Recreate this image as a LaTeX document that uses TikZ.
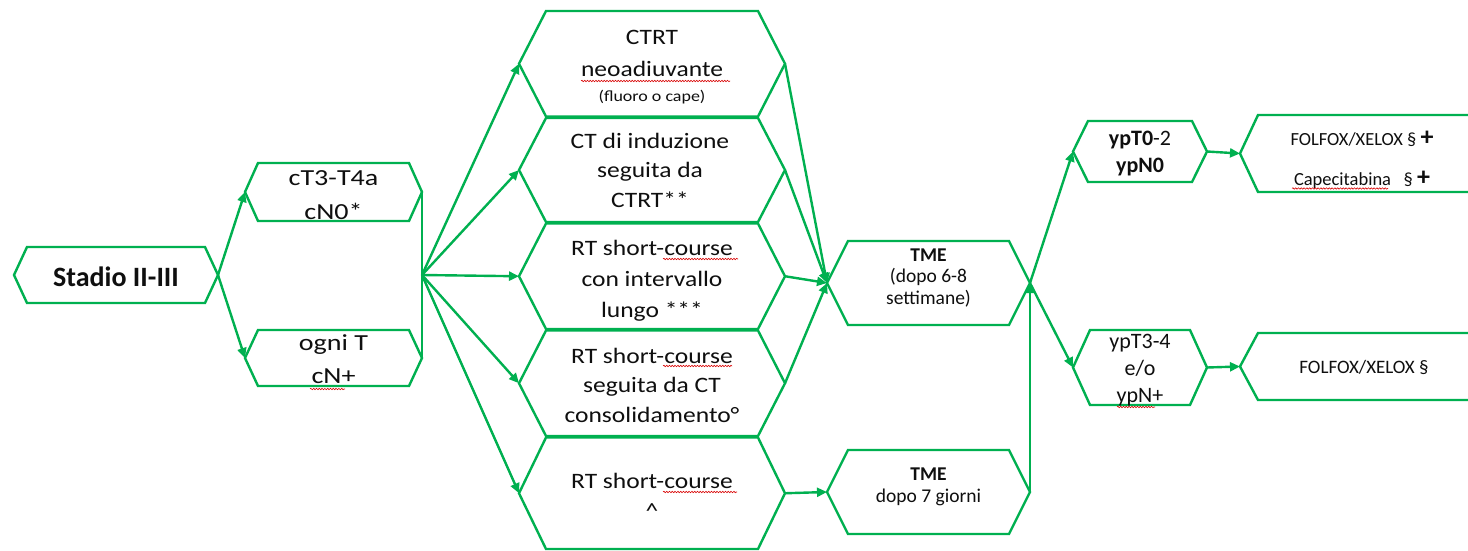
\documentclass[tikz,border=0pt]{standalone}
\usepackage{fontspec}
\setmainfont{Carlito}
\newfontfamily\stA{Carlito}[FakeStretch=1.22]
\newfontfamily\stB{Carlito}[FakeStretch=1.16]
\usetikzlibrary{arrows.meta,calc,decorations.pathmorphing}
\definecolor{gr}{RGB}{0,176,80}
\definecolor{tx}{RGB}{15,15,15}
\newcommand\hexo[2]{%
  \draw[hexline] (#1.west) -- ([xshift=#2]#1.north west) -- ([xshift=-#2]#1.north east) -- (#1.east) -- ([xshift=-#2]#1.south east) -- ([xshift=#2]#1.south west) -- cycle;}
\newcommand\openhexo[2]{%
  \draw[hexline] (#1.north east) -- ([xshift=#2]#1.north west) -- (#1.west) -- ([xshift=#2]#1.south west) -- (#1.south east);}
\begin{document}
\begin{tikzpicture}[x=1pt,y=-1pt,
  shp/.style={inner sep=0pt, outer sep=0pt, draw=none},
  hexline/.style={draw=gr, line width=2.4pt, line join=miter},
  con/.style={draw=gr, line width=2.4pt},
  arr/.style={con, -{Triangle[length=10pt,width=9pt]}},
  txt/.style={inner sep=0pt, anchor=base, align=center, text=tx},
  squig/.style={draw=red!85!black, line width=0.6pt, decorate, decoration={snake, amplitude=0.7pt, segment length=2.8pt}}]
\fill[white] (0,0) rectangle (1468,551);
\useasboundingbox (0,0) rectangle (1468,551);

% shapes
\node[shp, minimum width=204pt, minimum height=56pt] (st) at (116,275) {};
\node[shp, minimum width=177pt, minimum height=58pt] (a1) at (333.5,192) {};
\node[shp, minimum width=177pt, minimum height=56pt] (a2) at (333.5,358) {};
\node[shp, minimum width=266pt, minimum height=105.5pt] (m1) at (652,63.75) {};
\node[shp, minimum width=266pt, minimum height=104pt] (m2) at (652,170) {};
\node[shp, minimum width=266pt, minimum height=105.5pt] (m3) at (652,276.25) {};
\node[shp, minimum width=266pt, minimum height=105.5pt] (m4) at (652,383.25) {};
\node[shp, minimum width=266pt, minimum height=111.5pt] (m5) at (652,493.25) {};
\node[shp, minimum width=203pt, minimum height=84pt] (t1) at (928.5,283) {};
\node[shp, minimum width=203pt, minimum height=84pt] (t2) at (928.5,492) {};
\node[shp, minimum width=134pt, minimum height=61pt] (y1) at (1140,151.5) {};
\node[shp, minimum width=134pt, minimum height=75pt] (y2) at (1140,367.5) {};
\node[shp, minimum width=228pt, minimum height=77pt] (f1) at (1354,153.5) {};
\node[shp, minimum width=228pt, minimum height=67pt] (f2) at (1354,366.5) {};

\hexo{st}{13pt}
\hexo{a1}{13pt}
\hexo{a2}{13pt}
\hexo{m1}{27pt}
\hexo{m2}{27pt}
\hexo{m3}{27pt}
\hexo{m4}{27pt}
\hexo{m5}{27pt}
\hexo{t1}{21pt}
\hexo{t2}{21pt}
\hexo{y1}{15pt}
\hexo{y2}{17pt}
\openhexo{f1}{18pt}
\openhexo{f2}{18pt}

% texts (anchor=base = baseline of the last line)
\node[txt, font=\fontsize{28}{34}\selectfont\bfseries] (st-t) at (116,286) {Stadio II-III};
\node[txt, font=\stA\fontsize{23}{34}\selectfont] (a1-t) at (333.5,219) {cT3-T4a\\cN0*};
\node[txt, font=\stA\fontsize{23}{33}\selectfont] (a2-t) at (333.5,383) {ogni T\\cN+};
\node[txt, font=\stB\fontsize{22}{32}\selectfont] (m1-t) at (652,77) {CTRT\\neoadiuvante};
\node[txt, font=\stB\fontsize{15.5}{19}\selectfont] (m1-s) at (652,102) {(fluoro o cape)};
\node[txt, font=\stB\fontsize{22}{29.5}\selectfont] (m2-t) at (650,207) {CT di induzione\\seguita da\\CTRT**};
\node[txt, font=\stB\fontsize{22}{31}\selectfont] (m3-t) at (652,317) {RT short-course\\con intervallo\\lungo ***};
\node[txt, font=\stB\fontsize{22}{29.5}\selectfont] (m4-t) at (652,422) {RT short-course\\seguita da CT\\consolidamento°};
\node[txt, font=\stB\fontsize{22}{30}\selectfont] (m5-t) at (652,518) {RT short-course\\\textasciicircum};
\node[txt, font=\fontsize{19.5}{21.5}\selectfont] (t1-t) at (928.5,304) {\textbf{TME}\\(dopo 6-8\\settimane)};
\node[txt, font=\fontsize{19.5}{22}\selectfont] (t2-t) at (928.5,502) {\textbf{TME}\\dopo 7 giorni};
\node[txt, font=\fontsize{22}{27}\selectfont] (y1-t) at (1140,172) {\textbf{ypT0}-2\\\textbf{ypN0}};
\node[txt, font=\fontsize{22}{27}\selectfont] (y2-t) at (1140,402) {ypT3-4\\e/o\\ypN+};
\node[txt, font=\fontsize{18.5}{40}\selectfont] (f1-t) at (1362,185) {FOLFOX/XELOX § {\bfseries\fontsize{26}{26}\selectfont +}\\Capecitabina\ \ \ § {\bfseries\fontsize{26}{26}\selectfont +}};
\node[txt, font=\fontsize{19}{24}\selectfont] (f2-t) at (1364,373) {FOLFOX/XELOX §};

% connectors
\coordinate (J) at ($(a1.east)!0.5!(a2.east)$);
\draw[arr] (st.east) -- (a1.west);
\draw[arr] (st.east) -- (a2.west);
\draw[con] (a1.east) -- (a2.east);
\foreach \m in {m1,m2,m3,m4,m5} \draw[arr] (J) -- (\m.west);
\foreach \m in {m1,m2,m3,m4} \draw[arr] (\m.east) -- (t1.west);
\draw[arr] (m5.east) -- (t2.west);
\draw[arr] (t2.east) -- (t1.east);
\draw[arr] (t1.east) -- (y1.west);
\draw[arr] (t1.east) -- (y2.west);
\draw[arr] (y1.east) -- (f1.west);
\draw[arr] (y2.east) -- (f2.west);

% spell-check squiggles
\draw[squig] (581,81) -- (730,81);
\draw[squig] (663,259) -- (738,259);
\draw[squig] (663,366) -- (732,366);
\draw[squig] (663,492) -- (737,492);
\draw[squig] (310,389) -- (345,389);
\draw[squig] (1292,188.5) -- (1388,188.5);
\draw[squig] (1117,407) -- (1155,407);
\end{tikzpicture}
\end{document}
